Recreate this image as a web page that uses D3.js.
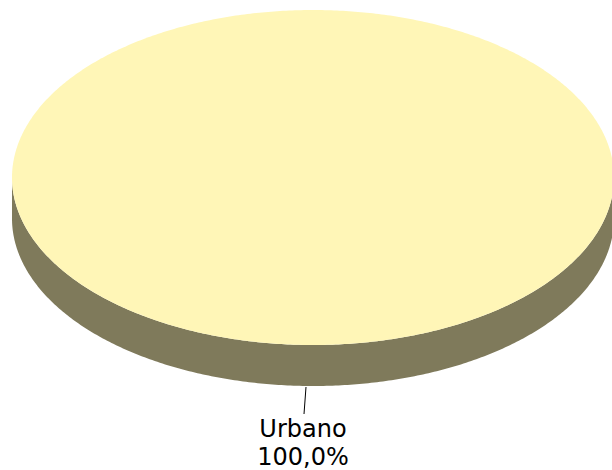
<!DOCTYPE html>
<html>
<head>
<meta charset="utf-8">
<script src="https://cdn.jsdelivr.net/npm/d3@7"></script>
<style>
  body { margin: 0; background: #fff; }
  svg { display: block; }
</style>
</head>
<body>
<svg width="612" height="470"></svg>
<script>
// Data
const categories = ["Urbano"];
const values = [100];
const valueLabels = ["100,0%"];
const topColors = ["#FFF6B7"];
const sideColors = ["#7F7A5B"];

const svg = d3.select("svg");

// Ellipse geometry of the 3D pie
const cx = 313, cy = 177.5, rx = 301, ry = 167.5, depth = 41;

const pie = d3.pie().sort(null).value(d => d.value);
const slices = pie(categories.map((c, i) => ({ label: c, value: values[i], i })));

const pt = (a, dy = 0) => [cx + rx * Math.sin(a), cy - ry * Math.cos(a) + dy];

const arcPoints = (a0, a1, dy) => {
  const n = Math.max(2, Math.ceil((a1 - a0) / 0.01));
  return d3.range(n + 1).map(k => pt(a0 + (a1 - a0) * k / n, dy));
};

// Side walls (only the front half is visible)
slices.forEach(s => {
  const a0 = Math.max(s.startAngle, Math.PI / 2);
  const a1 = Math.min(s.endAngle, Math.PI * 1.5);
  if (a1 <= a0) return;
  const pts = arcPoints(a0, a1, 0).concat(arcPoints(a0, a1, depth).reverse());
  svg.append("path")
    .attr("d", d3.line()(pts) + "Z")
    .attr("fill", sideColors[s.data.i]);
});

// Top faces
slices.forEach(s => {
  const full = s.endAngle - s.startAngle >= Math.PI * 2 - 1e-9;
  let pts = arcPoints(s.startAngle, s.endAngle, 0);
  if (!full) pts = [[cx, cy]].concat(pts);
  svg.append("path")
    .attr("d", d3.line()(pts) + "Z")
    .attr("fill", topColors[s.data.i]);
});

// Labels with leader lines
slices.forEach(s => {
  const mid = (s.startAngle + s.endAngle) / 2;
  const [x0, y0] = pt(mid, depth);
  svg.append("line")
    .attr("x1", x0 - 7).attr("y1", y0 + 1)
    .attr("x2", x0 - 9).attr("y2", y0 + 28)
    .attr("stroke", "#000").attr("stroke-width", 1);
  const t = svg.append("text")
    .attr("x", x0 - 10)
    .attr("text-anchor", "middle")
    .attr("font-family", "DejaVu Sans, Verdana, sans-serif")
    .attr("font-size", 24)
    .attr("fill", "#000");
  t.append("tspan").attr("x", x0 - 10).attr("y", y0 + 51).text(s.data.label);
  t.append("tspan").attr("x", x0 - 10).attr("y", y0 + 79).text(valueLabels[s.data.i]);
});
</script>
</body>
</html>
